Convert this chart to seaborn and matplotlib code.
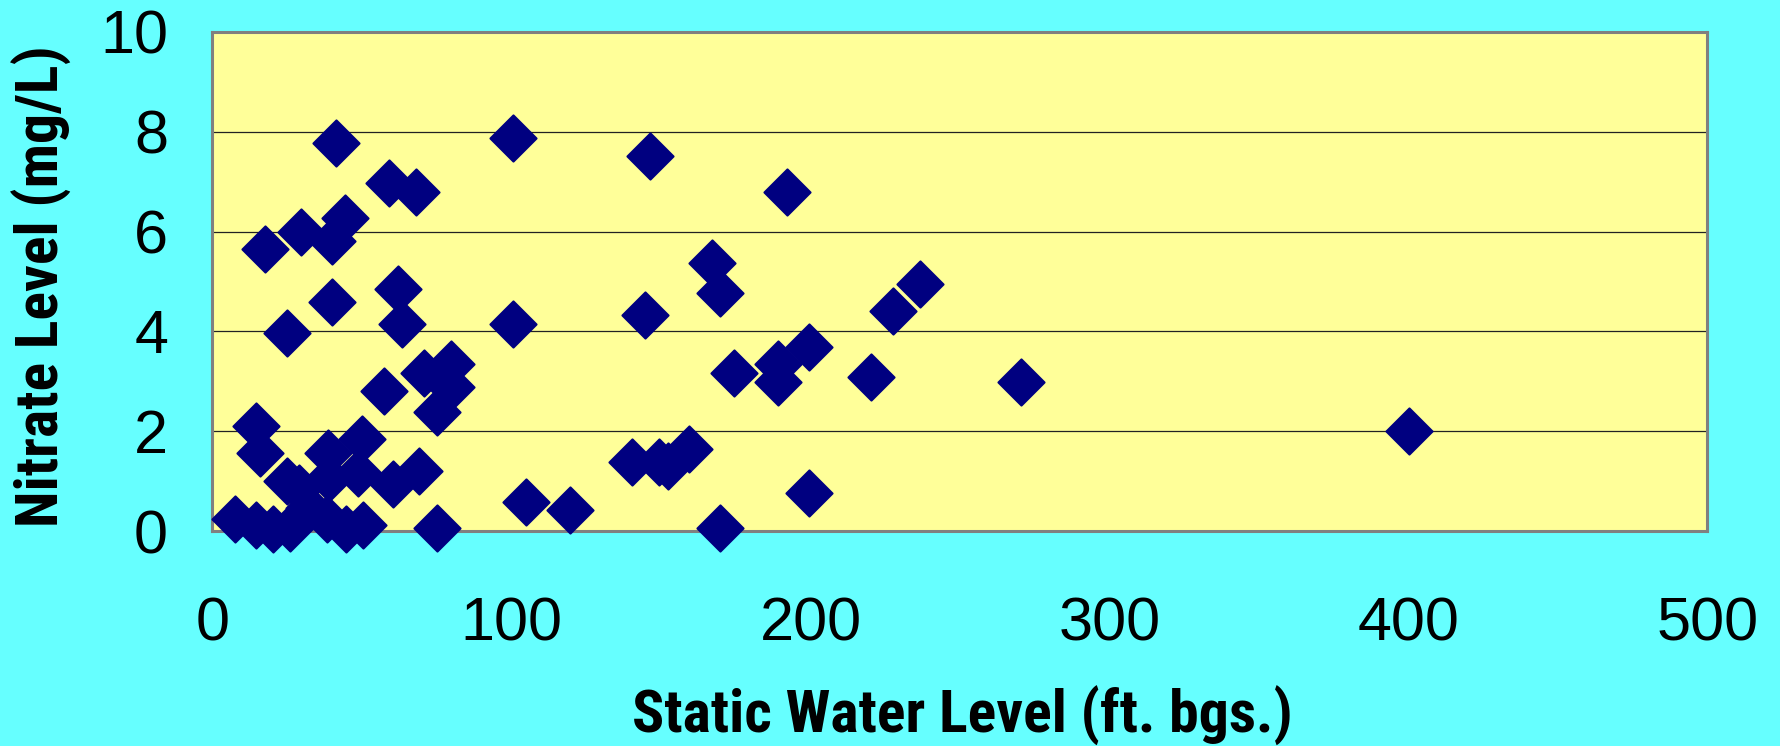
import matplotlib
matplotlib.use("Agg")
import matplotlib.pyplot as plt
from matplotlib import font_manager
import seaborn as sns
import pandas as pd

# Static water level (ft. below ground surface) for each sampled well
static_water_level = [
    7.4, 14.6, 14.6, 16.0, 17.7, 20.4, 24.8, 25.0, 26.0, 29.0,
    29.5, 32.4, 38.3, 38.6, 39.0, 39.9, 39.9, 41.4, 44.3, 44.7,
    48.8, 49.9, 50.2, 57.5, 59.0, 60.3, 62.0, 63.4, 67.9, 69.2,
    70.9, 75.0, 75.1, 79.8, 79.8, 100.4, 100.4, 104.8, 119.5, 140.4,
    144.8, 146.3, 149.4, 152.2, 159.3, 166.9, 169.8, 169.8, 174.3, 189.1,
    189.1, 192.1, 199.6, 199.5, 220.1, 227.6, 236.5, 270.5, 400.0,
]
# Nitrate concentration (mg/L) measured in the same wells
nitrate_level = [
    0.24, 0.13, 2.10, 1.57, 5.65, 0.05, 1.00, 3.96, 0.06, 0.87,
    6.00, 0.47, 0.24, 1.56, 1.07, 5.82, 4.58, 7.78, 6.27, 0.05,
    1.17, 1.84, 0.13, 2.81, 6.98, 0.94, 4.85, 4.15, 6.80, 1.20,
    3.16, 2.39, 0.06, 3.35, 2.88, 7.87, 4.14, 0.58, 0.42, 1.39,
    4.32, 7.51, 1.39, 1.31, 1.65, 5.38, 4.77, 0.07, 3.17, 3.35,
    2.98, 6.80, 3.69, 0.77, 3.08, 4.40, 4.94, 2.98, 2.00,
]
x_ticks = [0, 100, 200, 300, 400, 500]
y_ticks = [0, 2, 4, 6, 8, 10]

df = pd.DataFrame({"swl": static_water_level, "no3": nitrate_level})

sns.set_theme(style="white")
plt.rcParams["font.family"] = ["Liberation Sans", "DejaVu Sans"]

BG = "#66FFFF"
PLOT_BG = "#FFFF99"
NAVY = "#000080"

# Axis titles use a narrow bold face when one is available
installed = {f.name for f in font_manager.fontManager.ttflist}
narrow_family = None
for cand in ["Liberation Sans Narrow", "Arial Narrow", "Roboto Condensed",
             "Open Sans Condensed", "Noto Sans Condensed"]:
    if cand in installed:
        narrow_family = cand
        break
if narrow_family is not None:
    label_font = dict(family=[narrow_family, "Liberation Sans"],
                      fontweight="bold", fontsize=43, color="black")
else:
    label_font = dict(family=["Liberation Sans", "DejaVu Sans"],
                      fontweight="bold", fontsize=36.5, color="black")

W, H = 1781, 746
fig, ax = plt.subplots(figsize=(W / 100, H / 100), dpi=100)
fig.patch.set_facecolor(BG)
ax.set_facecolor(PLOT_BG)
fig.subplots_adjust(left=212.5 / W, right=1707.5 / W,
                    bottom=1 - 531 / H, top=1 - 32 / H)

sns.scatterplot(data=df, x="swl", y="no3", ax=ax, marker="D", s=552,
                color=NAVY, edgecolor=NAVY, linewidth=1.5, legend=False,
                clip_on=False, zorder=5)
for coll in ax.collections:
    coll.set_joinstyle("round")

ax.set_xlim(0, 500)
ax.set_ylim(0, 10)
ax.set_xticks(x_ticks)
ax.set_yticks(y_ticks)
ax.set_xticklabels([str(v) for v in x_ticks])
ax.set_yticklabels([str(v) for v in y_ticks])

# horizontal gridlines
ax.yaxis.grid(True, color="#222222", linewidth=0.9)
ax.xaxis.grid(False)
ax.set_axisbelow(True)

for side in ["left", "right", "top", "bottom"]:
    ax.spines[side].set_visible(True)
    ax.spines[side].set_color("#808080")
    ax.spines[side].set_linewidth(2.2)

ax.tick_params(axis="both", which="major", direction="out", length=13,
               width=0.8, color="black", labelsize=44, labelcolor="black")
ax.tick_params(axis="x", pad=34)
ax.tick_params(axis="y", pad=19)

ax.set_xlabel("")
ax.set_ylabel("")

fig.text(962 / W, 1 - 733 / H, "Static Water Level (ft. bgs.)",
         ha="center", va="baseline", **label_font)
fig.text(42 / W, 1 - 286 / H, "Nitrate Level (mg/L)", rotation=90,
         ha="center", va="center", **label_font)

fig.savefig("out.png", dpi=100, facecolor=BG)
